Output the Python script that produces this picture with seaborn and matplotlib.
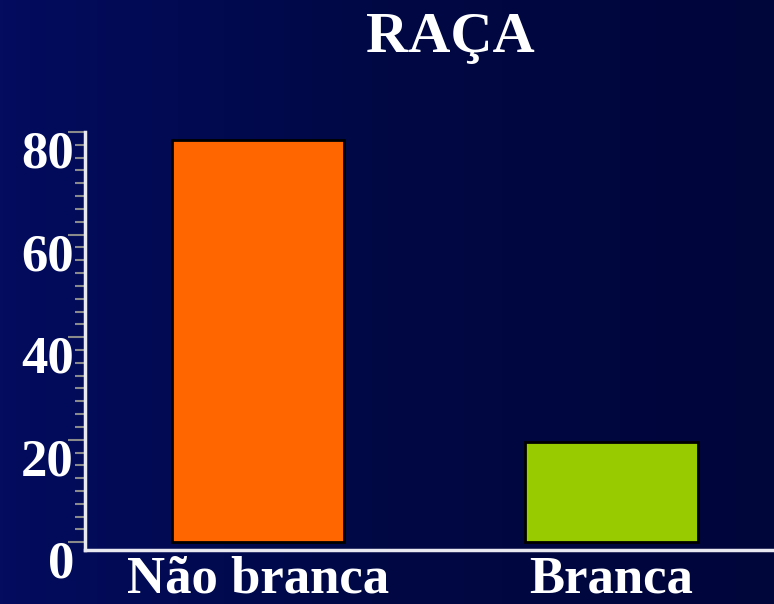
import numpy as np
import pandas as pd
import matplotlib
matplotlib.use("Agg")
import matplotlib.pyplot as plt
import seaborn as sns
from matplotlib.colors import LinearSegmentedColormap
from matplotlib.transforms import ScaledTranslation
from matplotlib.ticker import MultipleLocator

# data
categorias = ["Não branca", "Branca"]
percentual = [78.5, 19.5]
cores = ["#FF6600", "#99CC00"]
y_ticks = [0, 20, 40, 60, 80]

df = pd.DataFrame({"Raça": categorias, "Percentual": percentual})

sns.set_theme(style="white")
plt.rcParams["font.family"] = ["Liberation Serif", "DejaVu Serif"]
plt.rcParams["font.weight"] = "bold"

fig = plt.figure(figsize=(7.74, 6.04), dpi=100)

# gradient background
bg = fig.add_axes([0, 0, 1, 1], zorder=-10)
grad = np.linspace(0, 1, 256).reshape(1, -1)
cmap = LinearSegmentedColormap.from_list("bg", ["#030c5e", "#000844", "#00053a"])
bg.imshow(grad, aspect="auto", cmap=cmap, extent=[0, 1, 0, 1])
bg.set_axis_off()

W, H = 774, 604
ax = fig.add_axes([85 / W, (H - 550) / H, (774 - 85) / W, (550 - 132) / H])
ax.set_facecolor("none")

sns.barplot(data=df, x="Raça", y="Percentual", hue="Raça", palette=cores,
            saturation=1, width=0.487, edgecolor="black", linewidth=2,
            legend=False, ax=ax)

ax.set_xlim(-0.49, 1.46)
ax.set_ylim(-1.5, 80)
ax.set_xlabel("")
ax.set_ylabel("")

ax.set_yticks(y_ticks)
ax.yaxis.set_minor_locator(MultipleLocator(2.5))
ax.tick_params(axis="y", which="major", length=12, width=1.5, color="#8a8a8a",
               labelsize=38, labelcolor="white", pad=-4, left=True)
ax.tick_params(axis="y", which="minor", length=7, width=1.5, color="#8a8a8a", left=True)
ax.tick_params(axis="x", length=0, labelsize=38, labelcolor="white", pad=4)

for lab in ax.get_yticklabels():
    lab.set_fontweight("bold")
    lab.set_transform(lab.get_transform() + ScaledTranslation(0, -0.17, fig.dpi_scale_trans))
for lab in ax.get_xticklabels():
    lab.set_fontweight("bold")

for side in ["top", "right"]:
    ax.spines[side].set_visible(False)
for side in ["left", "bottom"]:
    ax.spines[side].set_color("#e8e8f0")
    ax.spines[side].set_linewidth(2.5)

fig.text(450 / W, 1 - 38 / H, "RAÇA", color="white", fontsize=42,
         fontweight="bold", ha="center", va="center")

fig.savefig("out.png", dpi=100)
